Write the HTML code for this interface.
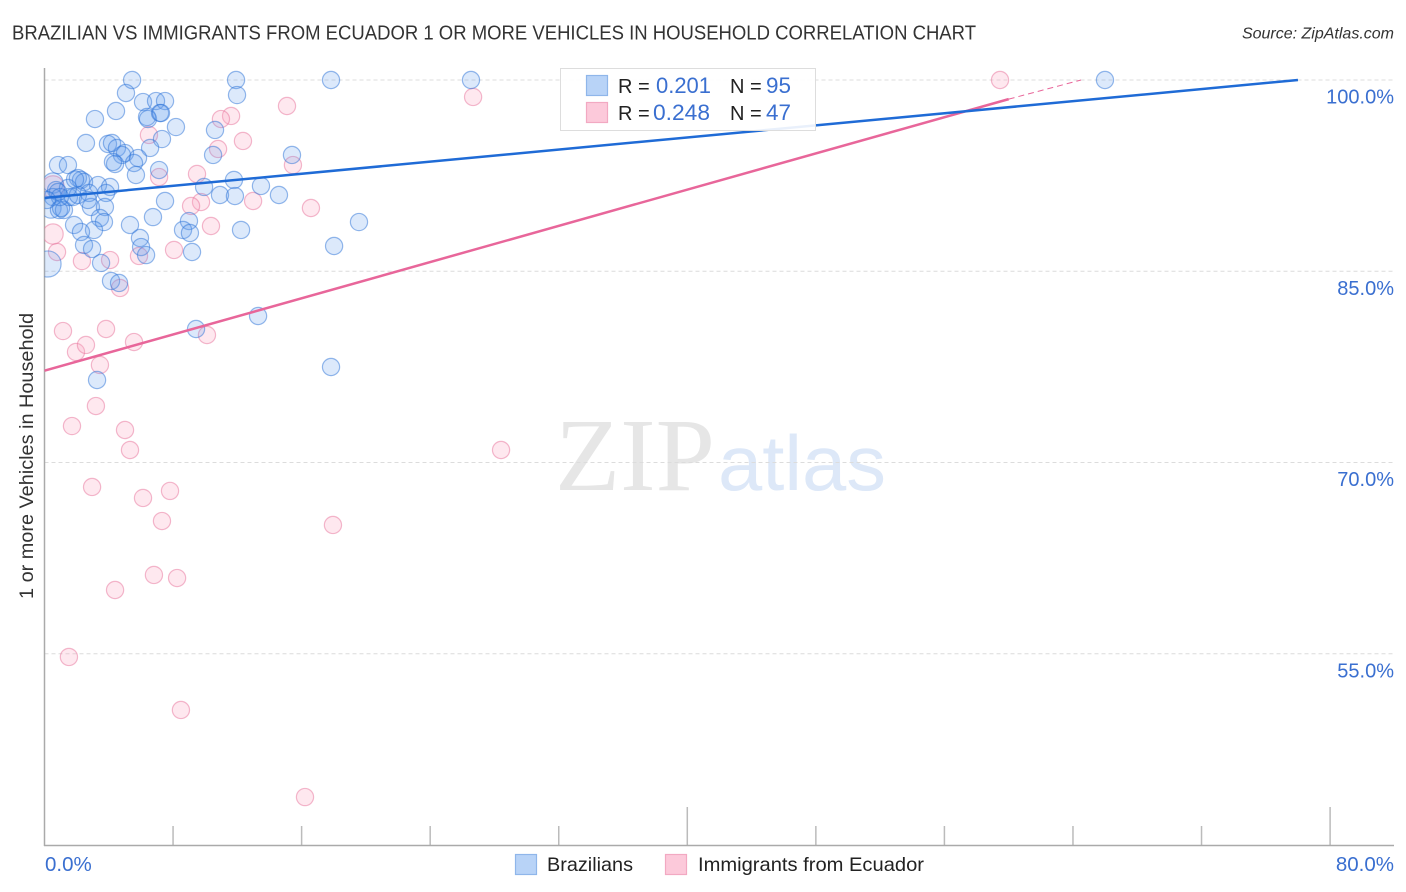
<!DOCTYPE html>
<html lang="en">
<head>
<meta charset="utf-8">
<title>Brazilian vs Immigrants from Ecuador correlation chart</title>
<style>
html,body{margin:0;padding:0;background:#fff;width:1406px;height:892px;overflow:hidden}
svg{display:block;font-family:"Liberation Sans",sans-serif}
</style>
</head>
<body>
<svg id="chart" width="1406" height="892" viewBox="0 0 1406 892" xmlns="http://www.w3.org/2000/svg">
  <defs><clipPath id="plot-clip"><rect x="44.5" y="60" width="1350" height="786"/></clipPath></defs>
  <rect x="0" y="0" width="1406" height="892" fill="#fff"/>
  <text x="12" y="39.5" font-size="20" fill="#333" textLength="964" lengthAdjust="spacingAndGlyphs">BRAZILIAN VS IMMIGRANTS FROM ECUADOR 1 OR MORE VEHICLES IN HOUSEHOLD CORRELATION CHART</text>
  <text x="1394" y="38.5" font-size="16" font-style="italic" fill="#333" text-anchor="end">Source: ZipAtlas.com</text>
  <g>
    <text x="555" y="490" font-family="'Liberation Serif',serif" font-size="104" fill="#e6e6e6" textLength="160" lengthAdjust="spacingAndGlyphs">ZIP</text>
    <text x="718" y="490" font-size="78" fill="#dde8f8" textLength="168" lengthAdjust="spacingAndGlyphs">atlas</text>
  </g>
  <g id="grid"></g>
  <g id="ticks"></g>
  <line x1="44.5" y1="68" x2="44.5" y2="846" stroke="#aaa" stroke-width="1.5"/>
  <line x1="44" y1="845.5" x2="1394" y2="845.5" stroke="#aaa" stroke-width="1.5"/>
  <g id="points" clip-path="url(#plot-clip)"></g>
  <g id="trends" clip-path="url(#plot-clip)"></g>
  <g id="ylabels"></g>
  <g id="xlabels"></g>
  <text transform="translate(33,456) rotate(-90)" font-size="19" fill="#333" text-anchor="middle" textLength="286" lengthAdjust="spacingAndGlyphs">1 or more Vehicles in Household</text>

  <g>
    <rect x="560.5" y="68.5" width="255" height="62" fill="#fff" fill-opacity="0.9" stroke="#ddd" stroke-width="1"/>
    <rect x="586.5" y="75.5" width="21" height="20" fill="#b8d3f7" stroke="#8fb6ea" stroke-width="1.2"/>
    <rect x="586.5" y="102.5" width="21" height="20" fill="#fcc9da" stroke="#f2a9c2" stroke-width="1.2"/>
    <text x="618" y="93" font-size="20" fill="#222">R =</text>
    <text x="656" y="93" font-size="22" fill="#3a6fd0" textLength="55" lengthAdjust="spacingAndGlyphs">0.201</text>
    <text x="730" y="93" font-size="20" fill="#222">N =</text>
    <text x="766" y="93" font-size="22" fill="#3a6fd0" textLength="25" lengthAdjust="spacingAndGlyphs">95</text>
    <text x="618" y="120" font-size="20" fill="#222">R =</text>
    <text x="653" y="120" font-size="22" fill="#3a6fd0" textLength="57" lengthAdjust="spacingAndGlyphs">0.248</text>
    <text x="730" y="120" font-size="20" fill="#222">N =</text>
    <text x="766" y="120" font-size="22" fill="#3a6fd0" textLength="25" lengthAdjust="spacingAndGlyphs">47</text>
  </g>

  <g>
    <rect x="515.5" y="854.5" width="21" height="20" fill="#b8d3f7" stroke="#8fb6ea" stroke-width="1.2"/>
    <text x="547" y="871" font-size="19.5" fill="#222" textLength="86" lengthAdjust="spacingAndGlyphs">Brazilians</text>
    <rect x="665.5" y="854.5" width="21" height="20" fill="#fcc9da" stroke="#f2a9c2" stroke-width="1.2"/>
    <text x="698" y="871" font-size="19.5" fill="#222" textLength="226" lengthAdjust="spacingAndGlyphs">Immigrants from Ecuador</text>
  </g>
</svg>
<script>
const xTickValues = [0, 8, 16, 24, 32, 40, 48, 56, 64, 72, 80];
const xTickMajor = [0, 40, 80];
const xLabelValues = ["0.0%", "80.0%"];
const yTickValues = [100, 85, 70, 55];
const yTickLabels = ["100.0%", "85.0%", "70.0%", "55.0%"];

const brazilianX = [5.45,5.07,4.45,3.14,6.13,6.94,7.50,6.38,6.44,7.19,7.25,8.18,7.31,6.57,2.58,3.95,4.20,4.51,5.01,4.82,4.39,5.82,5.57,5.69,7.13,0.84,1.46,2.08,2.27,2.46,3.33,4.08,3.83,2.77,2.89,3.76,3.45,3.70,3.08,1.84,2.27,2.46,2.96,3.52,4.14,4.64,5.32,5.94,6.01,6.32,6.75,7.50,8.99,8.62,9.05,9.18,9.93,10.92,11.79,11.85,12.23,13.47,14.59,15.40,10.61,10.49,11.92,11.98,13.29,17.83,26.54,65.99,19.57,18.02,17.83,9.43,3.27,0.22,0.53,0.72,0.53,0.40,0.90,1.21,1.03,1.52,1.77,2.08,1.46,0.84,1.90,0.96,2.70,4.26,0.16];
const brazilianY = [100,98.98,97.57,96.94,98.27,98.35,98.35,97.10,96.94,97.41,97.41,96.31,95.37,94.67,95.06,94.98,95.06,94.67,94.27,94.12,93.41,93.88,93.49,92.55,92.94,93.33,93.33,92.31,92.16,92.00,91.76,91.61,91.14,91.14,90.04,90.04,89.18,88.86,88.24,88.63,88.08,87.06,86.75,85.65,84.24,84.08,88.63,87.61,86.90,86.27,89.25,90.51,88.94,88.24,88.00,86.51,91.61,90.98,92.16,90.90,88.24,91.69,90.98,94.12,96.08,94.12,100,98.82,81.49,100,100,100,88.86,86.98,77.49,80.47,76.47,85.57,91.92,91.37,90.82,89.96,89.80,89.80,89.96,90.82,90.82,90.98,91.53,91.22,92.20,90.82,90.59,93.57,90.59];
const brazilianWeights = {77: 2.3, 78: 1.4, 81: 1.4};

const ecuadorX = [15.09,11.61,10.98,12.35,10.80,6.50,9.49,7.13,15.46,9.74,9.12,12.98,10.36,8.06,5.88,4.08,2.33,0.78,0.53,0.53,4.70,16.58,59.46,26.67,1.15,1.96,2.58,3.83,5.57,3.45,3.20,1.71,5.01,5.32,10.11,2.96,6.13,7.81,7.31,17.95,28.41,4.39,6.81,8.25,1.52,8.49,16.21];
const ecuadorY = [97.96,97.18,96.94,95.22,94.59,95.69,92.63,92.39,93.33,90.43,90.12,90.51,88.55,86.67,86.20,85.88,85.80,86.51,87.92,91.61,83.69,89.96,100,98.67,80.31,78.67,79.22,80.47,79.45,77.65,74.43,72.86,72.55,70.98,80.00,68.08,67.22,67.77,65.41,65.10,70.98,60.00,61.18,60.94,54.75,50.59,43.76];
const ecuadorWeights = {18: 1.4, 19: 1.7};

const brazilianTrendX = [0, 78];
const brazilianTrendY = [90.75, 100];
const ecuadorTrendX = [0, 60];
const ecuadorTrendY = [77.2, 98.5];
const ecuadorDashX = [60, 64.5];
const ecuadorDashY = [98.5, 100];

const NS = "http://www.w3.org/2000/svg";
function xScale(v) { return 44.5 + v * 16.07; }
function yScale(v) { return 80 + (100 - v) * 12.75; }
function radius(w) { return 8.6 * Math.sqrt(w); }

const gridG = document.getElementById("grid");
const ticksG = document.getElementById("ticks");
const yLabelsG = document.getElementById("ylabels");
const xLabelsG = document.getElementById("xlabels");
const pointsG = document.getElementById("points");
const trendsG = document.getElementById("trends");

yTickValues.forEach(function (v, i) {
  const gl = document.createElementNS(NS, "line");
  
  
  gl.setAttribute("x1", 44.5);
  gl.setAttribute("x2", 1394);
  gl.setAttribute("y1", yScale(v));
  gl.setAttribute("y2", yScale(v));
  gl.setAttribute("stroke", "#dcdcdc");
  gl.setAttribute("stroke-width", "1");
  gl.setAttribute("stroke-dasharray", "4 3");
  gridG.appendChild(gl);

  const t = document.createElementNS(NS, "text");
  
  
  t.setAttribute("x", 1394);
  t.setAttribute("y", yScale(v) + 23.5);
  t.setAttribute("font-size", "20");
  t.setAttribute("fill", "#3a6fd0");
  t.setAttribute("text-anchor", "end");
  t.textContent = yTickLabels[i];
  yLabelsG.appendChild(t);
});

xTickValues.forEach(function (v) {
  if (v === 0) return;
  const tk = document.createElementNS(NS, "line");
  
  
  tk.setAttribute("x1", xScale(v));
  tk.setAttribute("x2", xScale(v));
  tk.setAttribute("y1", xTickMajor.indexOf(v) >= 0 ? 807 : 826);
  tk.setAttribute("y2", 845);
  tk.setAttribute("stroke", "#bbb");
  tk.setAttribute("stroke-width", "1.5");
  ticksG.appendChild(tk);
});

xLabelValues.forEach(function (label, i) {
  const t = document.createElementNS(NS, "text");
  
  
  t.setAttribute("x", i === 0 ? 45 : 1394);
  t.setAttribute("y", 871);
  t.setAttribute("font-size", "20.5");
  t.setAttribute("fill", "#3a6fd0");
  t.setAttribute("text-anchor", i === 0 ? "start" : "end");
  t.textContent = label;
  xLabelsG.appendChild(t);
});

function drawSeries(xs, ys, weights, fill, stroke, name) {
  xs.forEach(function (x, i) {
    const c = document.createElementNS(NS, "circle");
    
    
    c.setAttribute("cx", xScale(x));
    c.setAttribute("cy", yScale(ys[i]));
    c.setAttribute("r", radius(weights[i] || 1));
    c.setAttribute("fill", fill);
    c.setAttribute("stroke", stroke);
    c.setAttribute("stroke-width", "1.2");
    pointsG.appendChild(c);
  });
}
drawSeries(ecuadorX, ecuadorY, ecuadorWeights, "rgba(250,165,190,0.25)", "rgba(232,115,155,0.5)", "ecuador-point");
drawSeries(brazilianX, brazilianY, brazilianWeights, "rgba(95,155,235,0.22)", "rgba(45,115,215,0.5)", "brazilian-point");

function drawLine(xs, ys, color, width, dash, name) {
  const l = document.createElementNS(NS, "line");
  
  
  l.setAttribute("x1", xScale(xs[0]));
  l.setAttribute("y1", yScale(ys[0]));
  l.setAttribute("x2", xScale(xs[1]));
  l.setAttribute("y2", yScale(ys[1]));
  l.setAttribute("stroke", color);
  l.setAttribute("stroke-width", width);
  if (dash) l.setAttribute("stroke-dasharray", dash);
  trendsG.appendChild(l);
}
drawLine(ecuadorTrendX, ecuadorTrendY, "#e8669a", 2.5, null, "ecuador-trend-line");
drawLine(ecuadorDashX, ecuadorDashY, "#e8669a", 1, "6 4", "ecuador-trend-extension");
drawLine(brazilianTrendX, brazilianTrendY, "#1f6bd6", 2.5, null, "brazilian-trend-line");
</script>
</body>
</html>
